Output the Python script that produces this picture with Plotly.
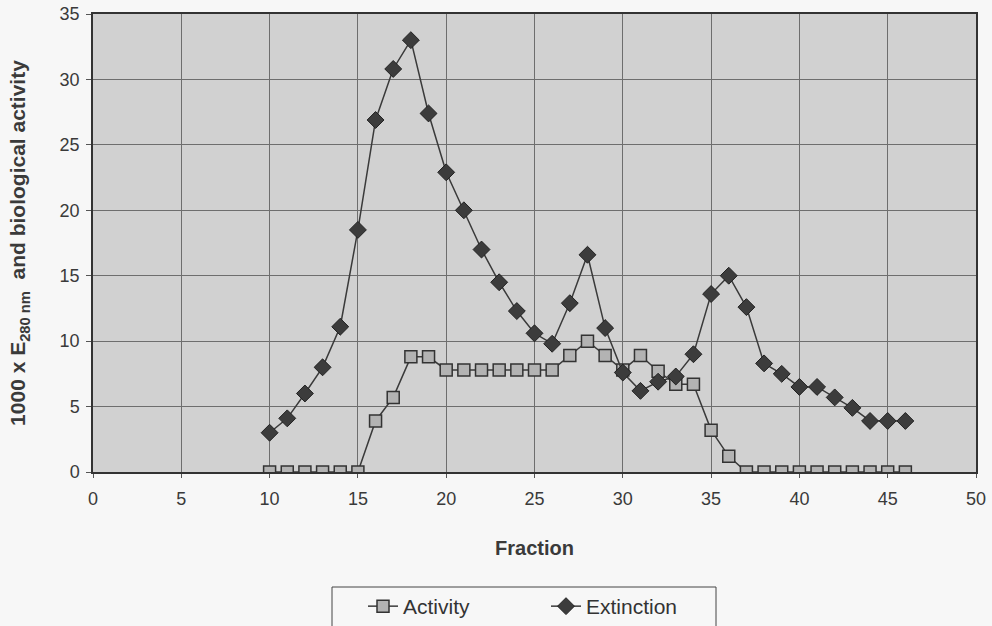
import plotly.graph_objects as go

fractions = list(range(10, 47))
extinction = [3.0, 4.1, 6.0, 8.0, 11.1, 18.5, 26.9, 30.8, 33.0, 27.4, 22.9, 20.0, 17.0, 14.5,
              12.3, 10.6, 9.8, 12.9, 16.6, 11.0, 7.6, 6.2, 6.9, 7.3, 9.0, 13.6, 15.0, 12.6,
              8.3, 7.5, 6.5, 6.5, 5.7, 4.9, 3.9, 3.9, 3.9]
activity = [0, 0, 0, 0, 0, 0, 3.9, 5.7, 8.8, 8.8, 7.8, 7.8, 7.8, 7.8, 7.8, 7.8, 7.8, 8.9,
            10.0, 8.9, 7.8, 8.9, 7.7, 6.7, 6.7, 3.2, 1.2, 0, 0, 0, 0, 0, 0, 0, 0, 0, 0]
x_ticks = [0, 5, 10, 15, 20, 25, 30, 35, 40, 45, 50]
y_ticks = [0, 5, 10, 15, 20, 25, 30, 35]

W, H = 992, 626
ML, MR, MT, MB = 93, 16, 14, 154
PW, PH = W - ML - MR, H - MT - MB


def px_x(p):
    return (p - ML) / PW


def px_y(p):
    return (H - MB - p) / PH


fig = go.Figure()
fig.add_trace(go.Scatter(
    x=fractions, y=activity, name="Activity", mode="lines+markers",
    line=dict(color="#3a3a3a", width=1.5),
    marker=dict(symbol="square", size=12, color="#b3b3b3",
                line=dict(color="#333333", width=1.5)),
))
fig.add_trace(go.Scatter(
    x=fractions, y=extinction, name="Extinction", mode="lines+markers",
    line=dict(color="#3a3a3a", width=1.5),
    marker=dict(symbol="diamond", size=13, color="#3c3c3c",
                line=dict(color="#222222", width=1)),
))

# legend frame (decoration)
fig.add_shape(type="rect", xref="paper", yref="paper",
              x0=px_x(332), x1=px_x(716), y0=px_y(640), y1=px_y(587),
              line=dict(color="#444444", width=1), fillcolor="rgba(0,0,0,0)", layer="below")

fig.update_layout(
    width=W, height=H,
    margin=dict(l=ML, r=MR, t=MT, b=MB, autoexpand=False),
    paper_bgcolor="#f7f7f7",
    plot_bgcolor="#d1d1d1",
    font=dict(family="Liberation Sans Narrow, Liberation Sans, Arial, sans-serif",
              color="#3a3a3a", size=18),
    showlegend=True,
    legend=dict(orientation="h", x=px_x(363), xanchor="left", y=px_y(586), yanchor="top",
                borderwidth=0, bgcolor="rgba(0,0,0,0)",
                font=dict(family="Liberation Sans, Arial, sans-serif", size=21,
                          color="#333333"),
                entrywidth=138),
)
fig.update_xaxes(
    range=[0, 50], tickvals=x_ticks, showgrid=True, gridcolor="#6e6e6e", gridwidth=1,
    zeroline=False, showline=True, linecolor="#333333", linewidth=1.5, mirror=True,
    ticks="outside", ticklen=4, tickcolor="#555555", ticklabelstandoff=6, automargin=False,
    title=dict(text="<b>Fraction</b>",
               font=dict(family="Liberation Sans, Arial, sans-serif", size=20,
                         color="#3a3a3a"), standoff=33),
)
fig.update_yaxes(
    range=[0, 35], tickvals=y_ticks, showgrid=True, gridcolor="#6e6e6e", gridwidth=1,
    zeroline=False, showline=True, linecolor="#333333", linewidth=1.5, mirror=True,
    ticks="outside", ticklen=5, tickcolor="#555555", ticklabelstandoff=3, automargin=False,
    title=dict(text="<b>1000 x E<sub>280 nm</sub>  and biological activity</b>",
               font=dict(family="Liberation Sans, Arial, sans-serif", size=21,
                         color="#3a3a3a"), standoff=28),
)

fig.write_html("out.html", config={"displayModeBar": False},
               post_script="document.body.style.margin='0';")
